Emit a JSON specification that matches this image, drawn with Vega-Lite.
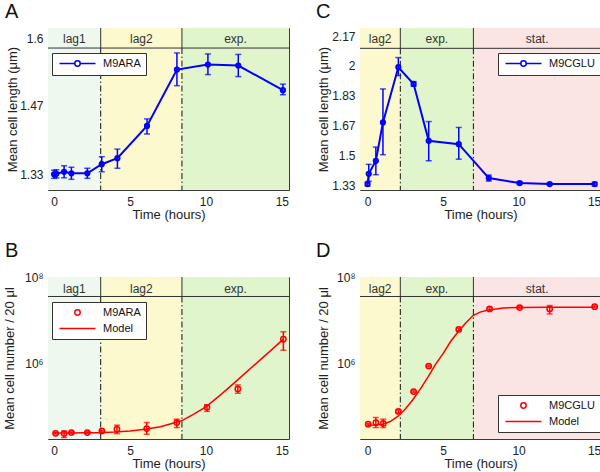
{
  "$schema": "https://vega.github.io/schema/vega-lite/v6.json",
  "background": "white",
  "padding": {"left": 2, "top": 1, "right": 0, "bottom": 0},
  "columns": 2,
  "spacing": {"row": 87, "column": 71},
  "bounds": "flush",
  "resolve": {"scale": {"color": "independent"}, "legend": {"color": "independent"}},
  "config": {
    "font": "Liberation Sans",
    "view": {"stroke": "#3a3a3a", "strokeWidth": 1},
    "axis": {"labelFont": "Liberation Sans", "labelFontSize": 12, "labelColor": "#222", "titleFont": "Liberation Sans", "titleFontSize": 13, "titleFontWeight": "normal", "titleColor": "#222", "ticks": false, "domain": false, "grid": false, "labelPadding": 5, "labelOverlap": false, "tickCount": 12},
    "title": {"font": "Liberation Sans", "fontSize": 20, "fontWeight": "normal", "anchor": "start", "frame": "group", "baseline": "alphabetic", "color": "#111"},
    "text": {"font": "Liberation Sans"}
  },
  "datasets": {
    "phases1": [{"phase": "lag1", "start": -0.4, "end": 3.07}, {"phase": "lag2", "start": 3.07, "end": 8.42}, {"phase": "exp.", "start": 8.42, "end": 15.47}],
    "bounds1": [{"b": 3.07}, {"b": 8.42}],
    "phases2": [{"phase": "lag2", "start": -0.5, "end": 2.17}, {"phase": "exp.", "start": 2.17, "end": 7.01}, {"phase": "stat.", "start": 7.01, "end": 15.46}],
    "bounds2": [{"b": 2.17}, {"b": 7.01}],
    "one": [{}],
    "A": [
      {"t": 0.0, "y": 1.330, "lo": 1.322, "hi": 1.338},
      {"t": 0.15, "y": 1.331, "lo": 1.323, "hi": 1.339},
      {"t": 0.66, "y": 1.335, "lo": 1.323, "hi": 1.347},
      {"t": 1.14, "y": 1.332, "lo": 1.320, "hi": 1.344},
      {"t": 2.19, "y": 1.332, "lo": 1.322, "hi": 1.342},
      {"t": 3.14, "y": 1.350, "lo": 1.335, "hi": 1.365},
      {"t": 4.17, "y": 1.362, "lo": 1.342, "hi": 1.380},
      {"t": 6.12, "y": 1.426, "lo": 1.410, "hi": 1.440},
      {"t": 8.09, "y": 1.538, "lo": 1.506, "hi": 1.571},
      {"t": 10.13, "y": 1.548, "lo": 1.528, "hi": 1.569},
      {"t": 12.13, "y": 1.546, "lo": 1.524, "hi": 1.568},
      {"t": 15.07, "y": 1.497, "lo": 1.488, "hi": 1.509}
    ],
    "C": [
      {"t": 0.0, "y": 1.339, "lo": 1.328, "hi": 1.350},
      {"t": 0.08, "y": 1.397, "lo": 1.355, "hi": 1.450},
      {"t": 0.55, "y": 1.470, "lo": 1.392, "hi": 1.547},
      {"t": 1.02, "y": 1.685, "lo": 1.504, "hi": 1.873},
      {"t": 2.04, "y": 1.995, "lo": 1.948, "hi": 2.049},
      {"t": 3.05, "y": 1.901, "lo": 1.888, "hi": 1.914},
      {"t": 4.05, "y": 1.582, "lo": 1.470, "hi": 1.690},
      {"t": 6.04, "y": 1.563, "lo": 1.479, "hi": 1.657},
      {"t": 8.03, "y": 1.373, "lo": 1.356, "hi": 1.390},
      {"t": 10.07, "y": 1.345, "lo": 1.337, "hi": 1.353},
      {"t": 12.06, "y": 1.339, "lo": 1.334, "hi": 1.344},
      {"t": 15.04, "y": 1.339, "lo": 1.329, "hi": 1.349}
    ],
    "B": [
      {"t": 0.1, "y": 23280, "lo": 22240, "hi": 24380},
      {"t": 0.66, "y": 22910, "lo": 18450, "hi": 26420},
      {"t": 1.14, "y": 24150, "lo": 23070, "hi": 25290},
      {"t": 2.19, "y": 24150, "lo": 23070, "hi": 25290},
      {"t": 3.15, "y": 26300, "lo": 25120, "hi": 27540},
      {"t": 4.14, "y": 28910, "lo": 22860, "hi": 35890},
      {"t": 6.1, "y": 29990, "lo": 22080, "hi": 41400},
      {"t": 8.08, "y": 41400, "lo": 31620, "hi": 49550},
      {"t": 10.07, "y": 93330, "lo": 75000, "hi": 107400},
      {"t": 12.1, "y": 250000, "lo": 198200, "hi": 310500},
      {"t": 15.1, "y": 3589000, "lo": 1982000, "hi": 5333000}
    ],
    "modelB": [
      {"t": 0, "y": 23710}, {"t": 1, "y": 23770}, {"t": 2, "y": 23880}, {"t": 3, "y": 24100},
      {"t": 4, "y": 24830}, {"t": 5, "y": 26300}, {"t": 6, "y": 28840}, {"t": 7, "y": 33110},
      {"t": 8.4, "y": 45290}, {"t": 9.2, "y": 64570}, {"t": 10, "y": 95500}, {"t": 11, "y": 186200},
      {"t": 12, "y": 380200}, {"t": 13.5, "y": 1122000}, {"t": 14.3, "y": 1995000}, {"t": 15.1, "y": 3589000}
    ],
    "D": [
      {"t": 0.04, "y": 37840, "lo": 36140, "hi": 39620},
      {"t": 0.55, "y": 41400, "lo": 31620, "hi": 54200},
      {"t": 1.04, "y": 39260, "lo": 31620, "hi": 49550},
      {"t": 2.04, "y": 75000, "lo": 70000, "hi": 80350},
      {"t": 3.05, "y": 216800, "lo": 207000, "hi": 227000},
      {"t": 4.05, "y": 851100, "lo": 812800, "hi": 891300},
      {"t": 6.04, "y": 6026000, "lo": 5623000, "hi": 6457000},
      {"t": 8.08, "y": 18110000, "lo": 16900000, "hi": 19410000},
      {"t": 10.07, "y": 19500000, "lo": 18620000, "hi": 20420000},
      {"t": 12.06, "y": 18110000, "lo": 13840000, "hi": 21680000},
      {"t": 15.04, "y": 20420000, "lo": 19500000, "hi": 21380000}
    ],
    "modelD": [
      {"t": 0, "y": 35890}, {"t": 0.5, "y": 36310}, {"t": 1, "y": 37840}, {"t": 1.5, "y": 43650},
      {"t": 2, "y": 57280}, {"t": 2.5, "y": 85110}, {"t": 3, "y": 140600}, {"t": 3.5, "y": 251200},
      {"t": 4, "y": 469900}, {"t": 4.5, "y": 933300}, {"t": 5, "y": 1660000}, {"t": 5.5, "y": 3162000},
      {"t": 6, "y": 5333000}, {"t": 6.5, "y": 8511000}, {"t": 7, "y": 12850000}, {"t": 7.5, "y": 15490000},
      {"t": 8, "y": 17140000}, {"t": 9, "y": 19050000}, {"t": 10, "y": 19500000}, {"t": 12, "y": 19720000},
      {"t": 15, "y": 19820000}
    ]
  },
  "concat": [
    {
      "width": 241, "height": 162,
      "title": {"text": "A", "dx": -43, "offset": 6},
      "layer": [
        {"data": {"name": "phases1"}, "mark": {"type": "rect", "clip": true},
         "encoding": {
           "x": {"field": "start", "type": "quantitative", "scale": {"domain": [-0.4, 15.47], "nice": false, "zero": false}, "axis": {"values": [0, 5, 10, 15], "labelPadding": 6, "titlePadding": 1}, "title": "Time (hours)"},
           "x2": {"field": "end"},
           "fill": {"field": "phase", "type": "nominal", "scale": {"domain": ["lag1", "lag2", "exp.", "stat."], "range": ["#eef8ee", "#fbf9cd", "#e1f5cd", "#fbe4e4"]}, "legend": null}}},
        {"data": {"name": "bounds1"}, "mark": {"type": "rule", "color": "#111", "strokeWidth": 1, "strokeDash": [6, 2.5, 1.5, 2.5]},
         "encoding": {"x": {"field": "b", "type": "quantitative", "title": "Time (hours)"},
           "y": {"datum": 1.5807, "type": "quantitative", "scale": {"domain": [1.2988, 1.6205], "nice": false, "zero": false}, "axis": {"values": [1.33, 1.466, 1.6], "tickCount": 12, "format": ".3~r", "labelOverlap": false, "titleX": -36, "titleBaseline": "middle"}, "title": "Mean cell length (μm)"},
           "y2": {"datum": 1.2988}}},
        {"data": {"name": "bounds1"}, "mark": {"type": "rule", "color": "#333", "strokeWidth": 1},
         "encoding": {"x": {"field": "b", "type": "quantitative", "title": "Time (hours)"}, "y": {"datum": 1.5807, "type": "quantitative", "title": "Mean cell length (μm)"}, "y2": {"datum": 1.6205}}},
        {"data": {"name": "one"}, "mark": {"type": "rule", "color": "#333", "strokeWidth": 1},
         "encoding": {"y": {"datum": 1.5807, "type": "quantitative", "title": "Mean cell length (μm)"}}},
        {"data": {"name": "phases1"}, "transform": [{"calculate": "(datum.start + datum.end) / 2", "as": "mid"}],
         "mark": {"type": "text", "fontSize": 12, "color": "#333", "baseline": "middle", "dy": 1},
         "encoding": {"x": {"field": "mid", "type": "quantitative", "title": "Time (hours)"}, "y": {"datum": 1.6, "type": "quantitative", "title": "Mean cell length (μm)"}, "text": {"field": "phase"}}},
        {"data": {"name": "A"}, "mark": {"type": "rule", "color": "#0000ff", "strokeWidth": 1.5},
         "encoding": {"x": {"field": "t", "type": "quantitative", "title": "Time (hours)"}, "y": {"field": "lo", "type": "quantitative", "title": "Mean cell length (μm)"}, "y2": {"field": "hi"}}},
        {"data": {"name": "A"}, "mark": {"type": "tick", "orient": "horizontal", "color": "#0000ff", "size": 6, "thickness": 1.5},
         "encoding": {"x": {"field": "t", "type": "quantitative", "title": "Time (hours)"}, "y": {"field": "lo", "type": "quantitative", "title": "Mean cell length (μm)"}}},
        {"data": {"name": "A"}, "mark": {"type": "tick", "orient": "horizontal", "color": "#0000ff", "size": 6, "thickness": 1.5},
         "encoding": {"x": {"field": "t", "type": "quantitative", "title": "Time (hours)"}, "y": {"field": "hi", "type": "quantitative", "title": "Mean cell length (μm)"}}},
        {"data": {"name": "A"}, "mark": {"type": "line", "strokeWidth": 2},
         "encoding": {"x": {"field": "t", "type": "quantitative", "title": "Time (hours)"}, "y": {"field": "y", "type": "quantitative", "title": "Mean cell length (μm)"},
           "color": {"datum": "M9ARA", "type": "nominal", "scale": {"domain": ["M9ARA"], "range": ["#0000ff"]},
             "legend": {"title": null, "orient": "none", "legendX": 4, "legendY": 25, "fillColor": "white", "strokeColor": "#333", "padding": 5, "symbolSize": 36, "labelOffset": 35, "labelFontSize": 11, "labelFont": "Liberation Sans", "labelColor": "#111",
               "encode": {"symbols": {"update": {"shape": {"value": "M-1,0H4.1M5.9,0H11M4.1,0A0.9,0.9 0 1,1 5.9,0A0.9,0.9 0 1,1 4.1,0"}, "stroke": {"value": "#0000ff"}, "fill": {"value": "transparent"}, "strokeWidth": {"value": 1.5}}}}}}}},
        {"data": {"name": "A"}, "mark": {"type": "point", "color": "#0000ff", "filled": false, "size": 18, "strokeWidth": 2, "opacity": 1},
         "encoding": {"x": {"field": "t", "type": "quantitative", "title": "Time (hours)"}, "y": {"field": "y", "type": "quantitative", "title": "Mean cell length (μm)"}}}
      ]
    },
    {
      "width": 241, "height": 162,
      "title": {"text": "C", "dx": -44, "offset": 6},
      "layer": [
        {"data": {"name": "phases2"}, "mark": {"type": "rect", "clip": true},
         "encoding": {
           "x": {"field": "start", "type": "quantitative", "scale": {"domain": [-0.5, 15.46], "nice": false, "zero": false}, "axis": {"values": [0, 5, 10, 15], "labelPadding": 6, "titlePadding": 1}, "title": "Time (hours)"},
           "x2": {"field": "end"},
           "fill": {"field": "phase", "type": "nominal", "scale": {"domain": ["lag1", "lag2", "exp.", "stat."], "range": ["#eef8ee", "#fbf9cd", "#e1f5cd", "#fbe4e4"]}, "legend": null}}},
        {"data": {"name": "bounds2"}, "mark": {"type": "rule", "color": "#111", "strokeWidth": 1, "strokeDash": [6, 2.5, 1.5, 2.5]},
         "encoding": {"x": {"field": "b", "type": "quantitative", "title": "Time (hours)"},
           "y": {"datum": 2.101, "type": "quantitative", "scale": {"domain": [1.306, 2.215], "nice": false, "zero": false}, "axis": {"values": [1.33, 1.498, 1.666, 1.834, 2.002, 2.17], "tickCount": 12, "format": ".3~r", "labelOverlap": false, "titleX": -37, "titleBaseline": "middle"}, "title": "Mean cell length (μm)"},
           "y2": {"datum": 1.306}}},
        {"data": {"name": "bounds2"}, "mark": {"type": "rule", "color": "#333", "strokeWidth": 1},
         "encoding": {"x": {"field": "b", "type": "quantitative", "title": "Time (hours)"}, "y": {"datum": 2.101, "type": "quantitative", "title": "Mean cell length (μm)"}, "y2": {"datum": 2.215}}},
        {"data": {"name": "one"}, "mark": {"type": "rule", "color": "#333", "strokeWidth": 1},
         "encoding": {"y": {"datum": 2.101, "type": "quantitative", "title": "Mean cell length (μm)"}}},
        {"data": {"name": "phases2"}, "transform": [{"calculate": "(datum.start + datum.end) / 2", "as": "mid"}],
         "mark": {"type": "text", "fontSize": 12, "color": "#333", "baseline": "middle", "dy": 1},
         "encoding": {"x": {"field": "mid", "type": "quantitative", "title": "Time (hours)"}, "y": {"datum": 2.159, "type": "quantitative", "title": "Mean cell length (μm)"}, "text": {"field": "phase"}}},
        {"data": {"name": "C"}, "mark": {"type": "rule", "color": "#0000ff", "strokeWidth": 1.5},
         "encoding": {"x": {"field": "t", "type": "quantitative", "title": "Time (hours)"}, "y": {"field": "lo", "type": "quantitative", "title": "Mean cell length (μm)"}, "y2": {"field": "hi"}}},
        {"data": {"name": "C"}, "mark": {"type": "tick", "orient": "horizontal", "color": "#0000ff", "size": 6, "thickness": 1.5},
         "encoding": {"x": {"field": "t", "type": "quantitative", "title": "Time (hours)"}, "y": {"field": "lo", "type": "quantitative", "title": "Mean cell length (μm)"}}},
        {"data": {"name": "C"}, "mark": {"type": "tick", "orient": "horizontal", "color": "#0000ff", "size": 6, "thickness": 1.5},
         "encoding": {"x": {"field": "t", "type": "quantitative", "title": "Time (hours)"}, "y": {"field": "hi", "type": "quantitative", "title": "Mean cell length (μm)"}}},
        {"data": {"name": "C"}, "mark": {"type": "line", "strokeWidth": 2},
         "encoding": {"x": {"field": "t", "type": "quantitative", "title": "Time (hours)"}, "y": {"field": "y", "type": "quantitative", "title": "Mean cell length (μm)"},
           "color": {"datum": "M9CGLU", "type": "nominal", "scale": {"domain": ["M9CGLU"], "range": ["#0000ff"]},
             "legend": {"title": null, "orient": "none", "legendX": 138, "legendY": 25, "fillColor": "white", "strokeColor": "#333", "padding": 5, "symbolSize": 36, "labelOffset": 35, "labelFontSize": 11, "labelFont": "Liberation Sans", "labelColor": "#111",
               "encode": {"symbols": {"update": {"shape": {"value": "M-1,0H4.1M5.9,0H11M4.1,0A0.9,0.9 0 1,1 5.9,0A0.9,0.9 0 1,1 4.1,0"}, "stroke": {"value": "#0000ff"}, "fill": {"value": "transparent"}, "strokeWidth": {"value": 1.5}}}}}}}},
        {"data": {"name": "C"}, "mark": {"type": "point", "color": "#0000ff", "filled": false, "size": 18, "strokeWidth": 2, "opacity": 1},
         "encoding": {"x": {"field": "t", "type": "quantitative", "title": "Time (hours)"}, "y": {"field": "y", "type": "quantitative", "title": "Mean cell length (μm)"}}}
      ]
    },
    {
      "width": 241, "height": 162,
      "title": {"text": "B", "dx": -43, "offset": 10},
      "layer": [
        {"data": {"name": "phases1"}, "mark": {"type": "rect", "clip": true},
         "encoding": {
           "x": {"field": "start", "type": "quantitative", "scale": {"domain": [-0.4, 15.47], "nice": false, "zero": false}, "axis": {"values": [0, 5, 10, 15], "labelPadding": 6, "titlePadding": 1}, "title": "Time (hours)"},
           "x2": {"field": "end"},
           "fill": {"field": "phase", "type": "nominal", "scale": {"domain": ["lag1", "lag2", "exp.", "stat."], "range": ["#eef8ee", "#fbf9cd", "#e1f5cd", "#fbe4e4"]}, "legend": null}}},
        {"data": {"name": "bounds1"}, "mark": {"type": "rule", "color": "#111", "strokeWidth": 1, "strokeDash": [6, 2.5, 1.5, 2.5]},
         "encoding": {"x": {"field": "b", "type": "quantitative", "title": "Time (hours)"},
           "y": {"datum": 35240000, "type": "quantitative", "scale": {"type": "log", "domain": [17140, 100000000], "nice": false}, "axis": {"values": [1000000, 100000000], "tickCount": 12, "labelExpr": "datum.value >= 50000000 ? '10⁸' : '10⁶'", "labelOverlap": false, "titleX": -39, "titleBaseline": "middle"}, "title": "Mean cell number / 20 μl"},
           "y2": {"datum": 17140}}},
        {"data": {"name": "bounds1"}, "mark": {"type": "rule", "color": "#333", "strokeWidth": 1},
         "encoding": {"x": {"field": "b", "type": "quantitative", "title": "Time (hours)"}, "y": {"datum": 35240000, "type": "quantitative", "title": "Mean cell number / 20 μl"}, "y2": {"datum": 100000000}}},
        {"data": {"name": "one"}, "mark": {"type": "rule", "color": "#333", "strokeWidth": 1},
         "encoding": {"y": {"datum": 35240000, "type": "quantitative", "title": "Mean cell number / 20 μl"}}},
        {"data": {"name": "phases1"}, "transform": [{"calculate": "(datum.start + datum.end) / 2", "as": "mid"}],
         "mark": {"type": "text", "fontSize": 12, "color": "#333", "baseline": "middle", "dy": 1},
         "encoding": {"x": {"field": "mid", "type": "quantitative", "title": "Time (hours)"}, "y": {"datum": 56750000, "type": "quantitative", "title": "Mean cell number / 20 μl"}, "text": {"field": "phase"}}},
        {"data": {"name": "modelB"}, "mark": {"type": "line", "strokeWidth": 1.5},
         "encoding": {"x": {"field": "t", "type": "quantitative", "title": "Time (hours)"}, "y": {"field": "y", "type": "quantitative", "title": "Mean cell number / 20 μl"},
           "color": {"datum": "Model", "type": "nominal", "scale": {"domain": ["M9ARA", "Model"], "range": ["#ff0000", "#ff0000"]},
             "legend": {"title": null, "orient": "none", "legendX": 4, "legendY": 25, "fillColor": "white", "strokeColor": "#333", "padding": 5, "rowPadding": 3, "symbolSize": 36, "labelOffset": 35, "labelFontSize": 11, "labelFont": "Liberation Sans", "labelColor": "#111",
               "encode": {"symbols": {"update": {"shape": {"signal": "datum.value === 'Model' ? 'M-1,0H11' : 'M4.1,0A0.9,0.9 0 1,1 5.9,0A0.9,0.9 0 1,1 4.1,0'"}, "stroke": {"value": "#ff0000"}, "fill": {"value": "transparent"}, "strokeWidth": {"value": 1.5}, "opacity": {"value": 1}}}}}}}},
        {"data": {"name": "B"}, "mark": {"type": "rule", "color": "#ff0000", "strokeWidth": 1.5},
         "encoding": {"x": {"field": "t", "type": "quantitative", "title": "Time (hours)"}, "y": {"field": "lo", "type": "quantitative", "title": "Mean cell number / 20 μl"}, "y2": {"field": "hi"}}},
        {"data": {"name": "B"}, "mark": {"type": "tick", "orient": "horizontal", "color": "#ff0000", "size": 6, "thickness": 1.5},
         "encoding": {"x": {"field": "t", "type": "quantitative", "title": "Time (hours)"}, "y": {"field": "lo", "type": "quantitative", "title": "Mean cell number / 20 μl"}}},
        {"data": {"name": "B"}, "mark": {"type": "tick", "orient": "horizontal", "color": "#ff0000", "size": 6, "thickness": 1.5},
         "encoding": {"x": {"field": "t", "type": "quantitative", "title": "Time (hours)"}, "y": {"field": "hi", "type": "quantitative", "title": "Mean cell number / 20 μl"}}},
        {"data": {"name": "B"}, "mark": {"type": "point", "filled": false, "size": 28, "strokeWidth": 1.5, "opacity": 1},
         "encoding": {"x": {"field": "t", "type": "quantitative", "title": "Time (hours)"}, "y": {"field": "y", "type": "quantitative", "title": "Mean cell number / 20 μl"}, "color": {"datum": "M9ARA", "type": "nominal"}}}
      ]
    },
    {
      "width": 241, "height": 162,
      "title": {"text": "D", "dx": -44, "offset": 10},
      "layer": [
        {"data": {"name": "phases2"}, "mark": {"type": "rect", "clip": true},
         "encoding": {
           "x": {"field": "start", "type": "quantitative", "scale": {"domain": [-0.5, 15.46], "nice": false, "zero": false}, "axis": {"values": [0, 5, 10, 15], "labelPadding": 6, "titlePadding": 1}, "title": "Time (hours)"},
           "x2": {"field": "end"},
           "fill": {"field": "phase", "type": "nominal", "scale": {"domain": ["lag1", "lag2", "exp.", "stat."], "range": ["#eef8ee", "#fbf9cd", "#e1f5cd", "#fbe4e4"]}, "legend": null}}},
        {"data": {"name": "bounds2"}, "mark": {"type": "rule", "color": "#111", "strokeWidth": 1, "strokeDash": [6, 2.5, 1.5, 2.5]},
         "encoding": {"x": {"field": "b", "type": "quantitative", "title": "Time (hours)"},
           "y": {"datum": 35240000, "type": "quantitative", "scale": {"type": "log", "domain": [17140, 100000000], "nice": false}, "axis": {"values": [1000000, 100000000], "tickCount": 12, "labelExpr": "datum.value >= 50000000 ? '10⁸' : '10⁶'", "labelOverlap": false, "titleX": -37, "titleBaseline": "middle"}, "title": "Mean cell number / 20 μl"},
           "y2": {"datum": 17140}}},
        {"data": {"name": "bounds2"}, "mark": {"type": "rule", "color": "#333", "strokeWidth": 1},
         "encoding": {"x": {"field": "b", "type": "quantitative", "title": "Time (hours)"}, "y": {"datum": 35240000, "type": "quantitative", "title": "Mean cell number / 20 μl"}, "y2": {"datum": 100000000}}},
        {"data": {"name": "one"}, "mark": {"type": "rule", "color": "#333", "strokeWidth": 1},
         "encoding": {"y": {"datum": 35240000, "type": "quantitative", "title": "Mean cell number / 20 μl"}}},
        {"data": {"name": "phases2"}, "transform": [{"calculate": "(datum.start + datum.end) / 2", "as": "mid"}],
         "mark": {"type": "text", "fontSize": 12, "color": "#333", "baseline": "middle", "dy": 1},
         "encoding": {"x": {"field": "mid", "type": "quantitative", "title": "Time (hours)"}, "y": {"datum": 56750000, "type": "quantitative", "title": "Mean cell number / 20 μl"}, "text": {"field": "phase"}}},
        {"data": {"name": "modelD"}, "mark": {"type": "line", "strokeWidth": 1.5},
         "encoding": {"x": {"field": "t", "type": "quantitative", "title": "Time (hours)"}, "y": {"field": "y", "type": "quantitative", "title": "Mean cell number / 20 μl"},
           "color": {"datum": "Model", "type": "nominal", "scale": {"domain": ["M9CGLU", "Model"], "range": ["#ff0000", "#ff0000"]},
             "legend": {"title": null, "orient": "none", "legendX": 138, "legendY": 118, "fillColor": "white", "strokeColor": "#333", "padding": 5, "rowPadding": 3, "symbolSize": 36, "labelOffset": 35, "labelFontSize": 11, "labelFont": "Liberation Sans", "labelColor": "#111",
               "encode": {"symbols": {"update": {"shape": {"signal": "datum.value === 'Model' ? 'M-1,0H11' : 'M4.1,0A0.9,0.9 0 1,1 5.9,0A0.9,0.9 0 1,1 4.1,0'"}, "stroke": {"value": "#ff0000"}, "fill": {"value": "transparent"}, "strokeWidth": {"value": 1.5}, "opacity": {"value": 1}}}}}}}},
        {"data": {"name": "D"}, "mark": {"type": "rule", "color": "#ff0000", "strokeWidth": 1.5},
         "encoding": {"x": {"field": "t", "type": "quantitative", "title": "Time (hours)"}, "y": {"field": "lo", "type": "quantitative", "title": "Mean cell number / 20 μl"}, "y2": {"field": "hi"}}},
        {"data": {"name": "D"}, "mark": {"type": "tick", "orient": "horizontal", "color": "#ff0000", "size": 6, "thickness": 1.5},
         "encoding": {"x": {"field": "t", "type": "quantitative", "title": "Time (hours)"}, "y": {"field": "lo", "type": "quantitative", "title": "Mean cell number / 20 μl"}}},
        {"data": {"name": "D"}, "mark": {"type": "tick", "orient": "horizontal", "color": "#ff0000", "size": 6, "thickness": 1.5},
         "encoding": {"x": {"field": "t", "type": "quantitative", "title": "Time (hours)"}, "y": {"field": "hi", "type": "quantitative", "title": "Mean cell number / 20 μl"}}},
        {"data": {"name": "D"}, "mark": {"type": "point", "filled": false, "size": 28, "strokeWidth": 1.5, "opacity": 1},
         "encoding": {"x": {"field": "t", "type": "quantitative", "title": "Time (hours)"}, "y": {"field": "y", "type": "quantitative", "title": "Mean cell number / 20 μl"}, "color": {"datum": "M9CGLU", "type": "nominal"}}}
      ]
    }
  ]
}
